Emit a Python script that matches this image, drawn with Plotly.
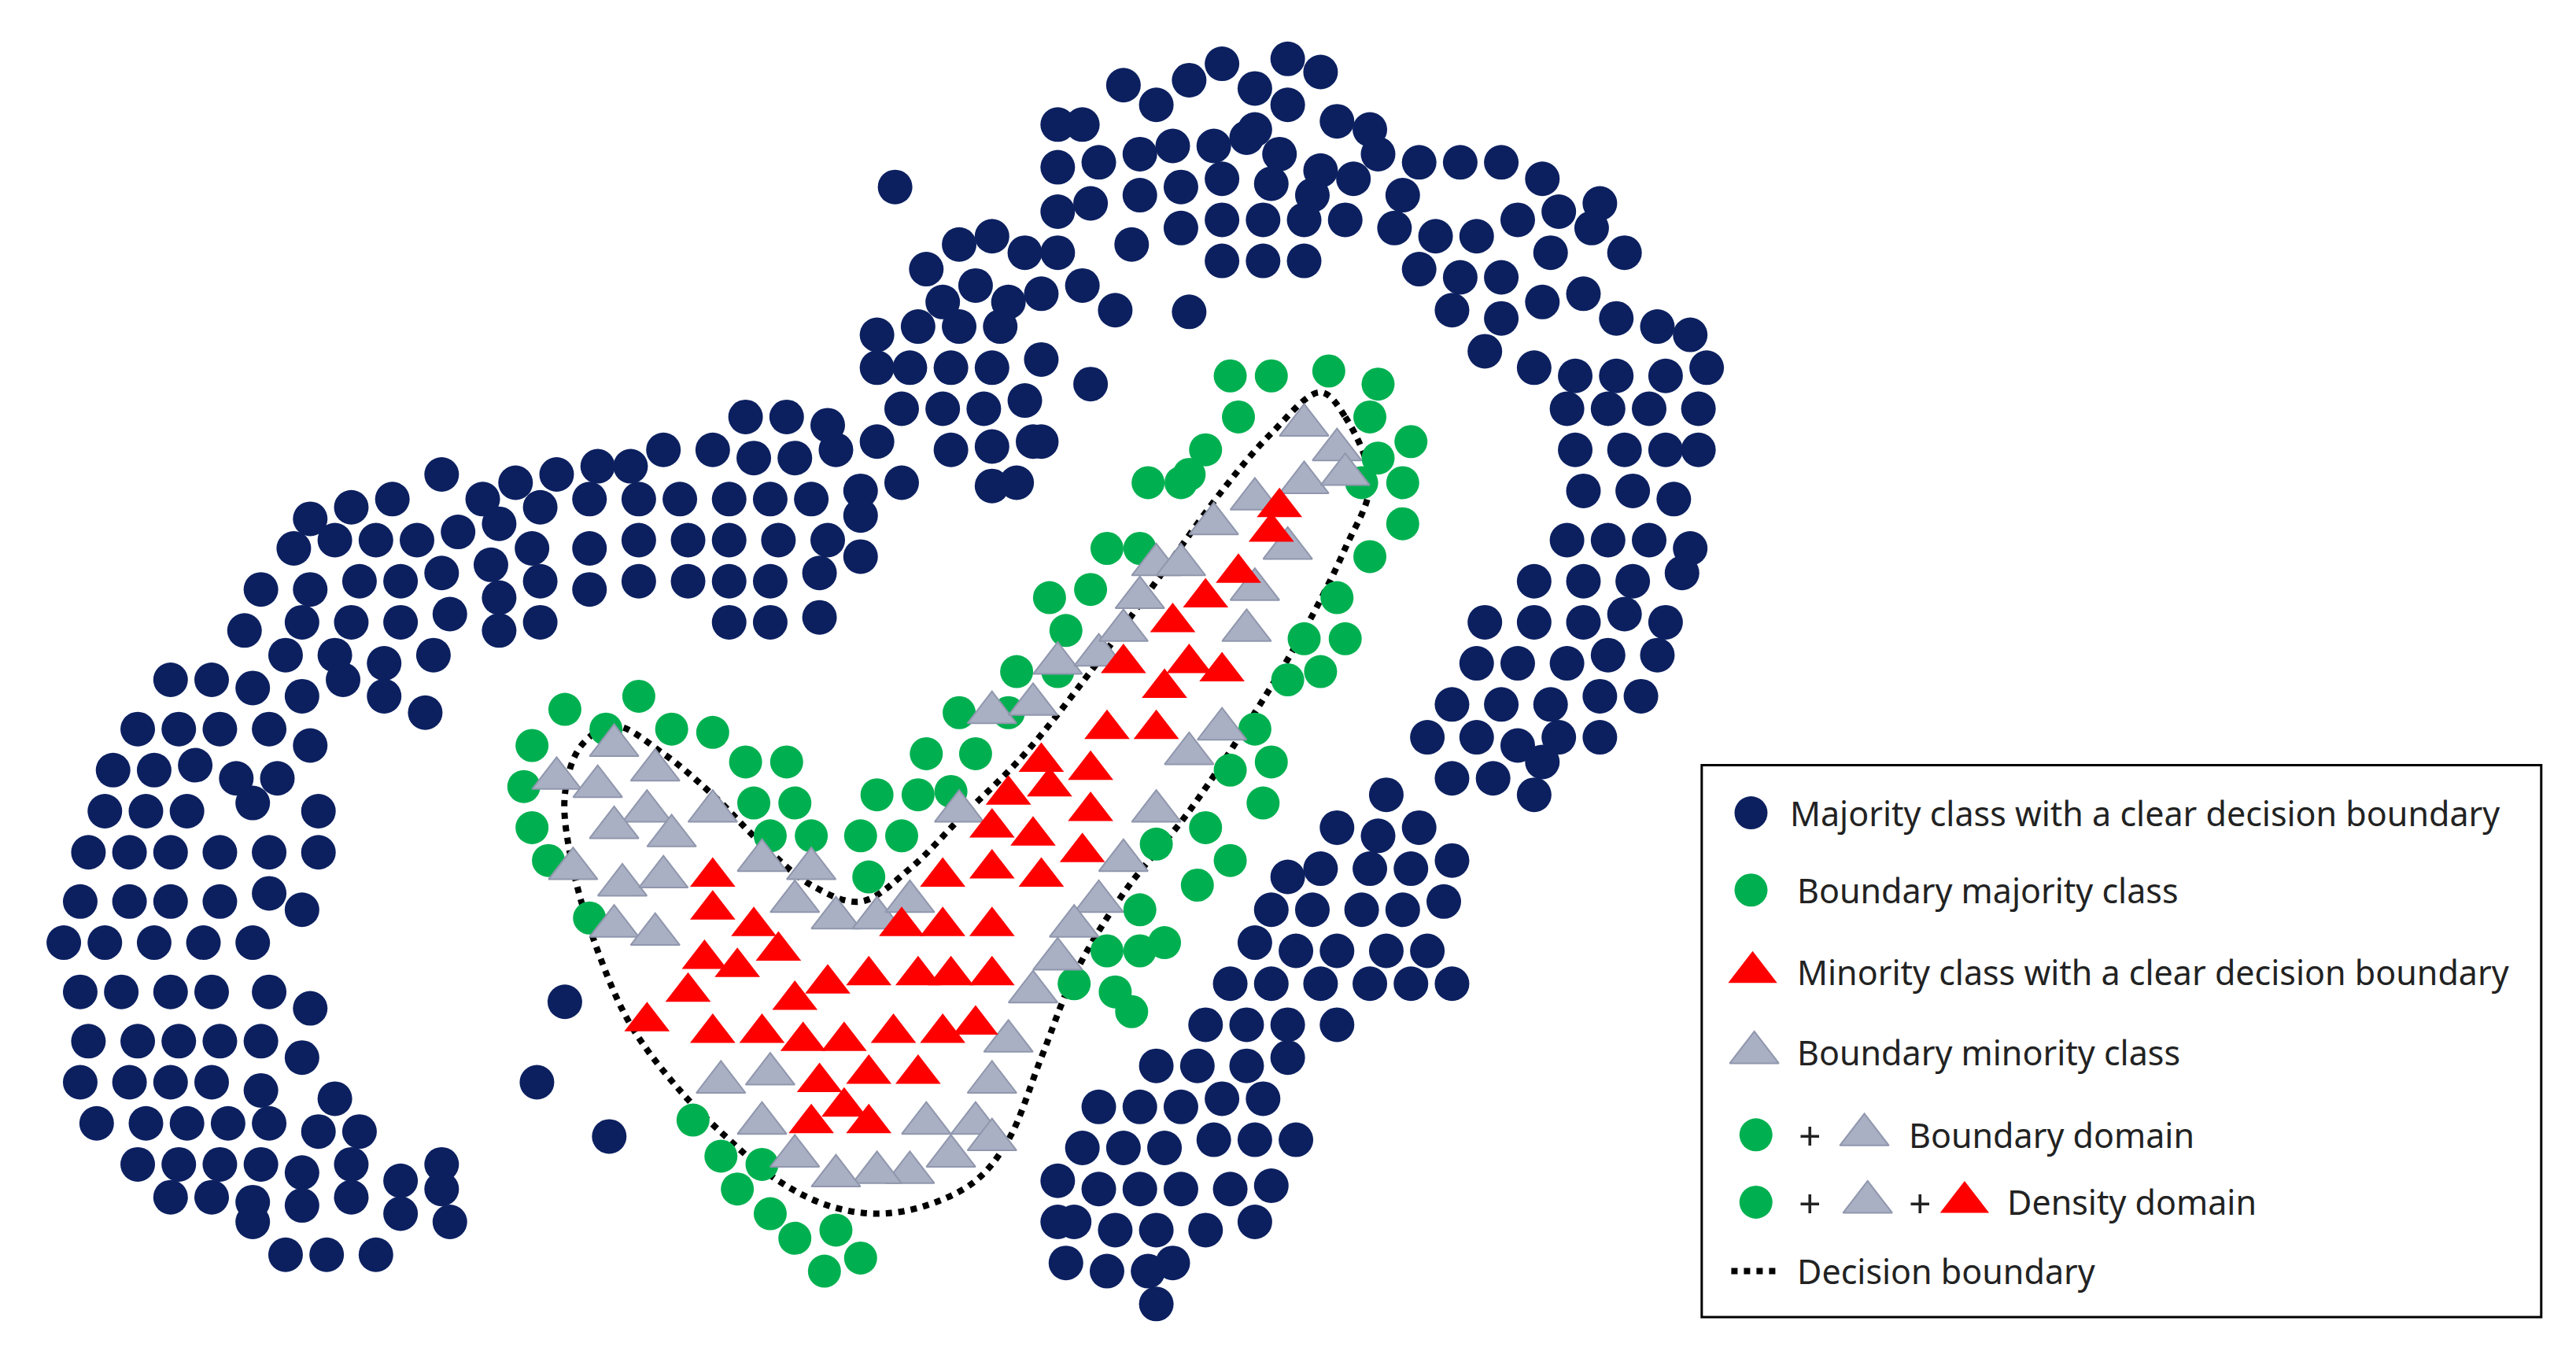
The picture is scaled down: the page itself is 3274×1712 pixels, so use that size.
import plotly.graph_objects as go

def pts(s):
    a = [tuple(map(float, p.split(','))) for p in s.split()]
    return [p[0] for p in a], [p[1] for p in a]

navy = """780,32 800,40 760,50 740,35 720,45 700,60 680,48 655,72 640,72 810,70 830,75 780,60 760,75
640,98 665,95 690,90 710,85 735,85 755,80 775,90 800,100 835,90 860,95 885,95 910,95 935,105 660,120 690,115 715,110 740,105 770,108 795,115 820,105 850,115
640,125 715,135 740,130 765,130 790,130 815,130 845,135 870,140 895,140 920,130 945,125 970,120 685,145 740,155 765,155 790,155 860,160 885,165 910,165 940,150 965,135 985,150
880,185 910,190 935,180 960,175 980,190 1005,195 1025,200 900,210 930,220 955,225 980,225 1010,225 1035,220
950,245 975,245 1000,245 1030,245 955,270 985,270 1010,270 1030,270 960,295 990,295 1015,300 950,325 975,325 1000,325 1025,330 930,350 960,350 990,350 1020,345 900,375 930,375 960,375 985,370 1010,375 895,400 920,400 950,400 975,395 1005,395 880,425 910,425 940,425 970,420 995,420 865,445 895,445 920,450 945,445 970,445 880,470 905,470 930,480 935,460
840,480 860,500 835,505 810,500 800,525 830,525 855,525 880,520 780,530 770,550 795,550 825,550 850,550 875,545 760,570 785,575 810,575 840,575 865,575 745,595 770,595 800,595 830,595 855,595 880,595 730,620 755,620 780,620 810,620 700,645 725,645 755,645 780,640 665,670 690,670 715,670 740,665 765,665 785,690 655,695 680,695 705,695 735,690 760,690 640,715 665,720 690,720 715,720 745,720 770,718 650,740 675,745 700,745 730,745 760,740 645,765 670,770 695,770 710,765 700,790 640,740
541,110 560,160 580,145 600,140 620,150 640,150 655,170 675,185 570,180 590,170 610,180 630,175 530,200 555,195 580,195 605,195 630,215 660,230 530,220 550,220 575,220 600,220 620,240 545,245 570,245 595,245 630,265 575,270 600,268 625,265 600,292 615,290 520,295 545,290 720,186
450,250 475,250 500,255 430,270 455,275 480,275 505,270 530,265 400,270 380,280 360,280 335,285 310,290 290,300 265,285 235,300 210,305 185,312 440,300 465,300 490,300 520,310 410,300 385,300 355,300 325,305 300,315 275,320 250,325 225,325 200,325 175,330 415,325 440,325 470,325 500,325 385,325 355,330 320,330 295,340 265,345 240,350 215,350 185,355 155,355 415,350 440,350 465,350 495,345 520,335 385,350 355,355 325,350 300,360 270,370 240,375 210,375 180,375 145,380 440,375 465,375 495,372 325,375 300,380 260,395 230,400 200,395 170,395 255,430 230,420
100,410 125,410 150,415 180,420 205,410 80,440 105,440 130,440 160,440 185,450 65,465 90,465 115,462 140,470 165,470 60,490 85,490 110,490 150,485 190,490 50,515 75,515 100,515 130,515 160,515 190,515 45,545 75,545 100,545 130,545 160,540 180,550 35,570 60,570 90,570 120,570 150,570 45,600 70,600 100,600 125,600 160,600 185,610 50,630 80,630 105,630 130,630 155,630 180,640 45,655 75,655 100,655 125,655 155,660 200,665 55,680 85,680 110,680 135,680 160,680 190,685 215,685 80,705 105,705 130,705 155,705 180,710 210,705 240,715 265,705 100,725 125,725 150,728 180,730 210,725 240,735 270,740 150,740 170,760 195,760 225,760 265,720 340,606 323,655 367,688"""

green = """385,420 340,428 365,440 405,440 430,442 320,450 450,460 475,460 315,475 455,485 480,485 320,500 465,505 490,505 330,520 355,555
745,225 770,225 805,222 835,230 750,250 730,270 720,285 830,250 855,265 835,275 850,290 825,290 695,290 715,290 850,315 670,330 690,330 830,335 635,360 660,355 810,360 645,380 790,385 815,385 615,405 640,405 780,410 800,405 580,430 610,430 760,440 770,460 560,455 590,455 745,465 765,485 530,480 555,480 575,478 520,505 545,505 730,500 745,520 525,530 700,510 725,535 690,550 705,570 670,575 690,575 650,595 675,600 685,612
418,678 435,700 460,705 445,720 465,735 480,750 505,745 520,762 498,770"""

grey = """370,450 395,465 335,470 360,475 390,490 430,490 370,500 405,505 345,525 375,535 400,530 460,520 490,525 370,560 395,565 480,545 505,555 530,555 550,545 580,490 600,430 625,425 640,400 665,395 680,380 700,340 715,340 690,360 735,315 760,300 790,255 810,270 790,290 815,285 780,330 760,355 755,380 740,440 720,455 700,490 680,520 665,545 650,560 640,580 625,600 610,630 600,655 590,680 575,700 550,710 530,710 505,712 480,700 460,680 435,655 465,650 560,680 600,690"""

red = """430,530 430,550 455,560 470,575 425,580 445,585 390,618 415,600 430,625 460,625 480,605 500,595 525,590 555,590 575,590 600,590 485,630 510,630 540,625 570,625 590,620 495,655 525,650 555,650 510,670 525,680 490,680 545,560 570,560 600,560 570,530 600,525 630,530 600,500 625,505 655,515 610,480 635,475 660,490 630,460 660,465 670,440 700,440 680,400 705,415 720,400 710,375 730,360 750,345 775,305 770,320 740,405"""

boundary = """800,235 815,250 830,290 815,330 790,380 760,430 720,490 680,540 650,590 630,640 610,690 590,715 560,730 530,735 500,730 470,715 440,690 410,660 380,620 360,575 345,525 340,480 350,450 370,438 400,455 430,480 460,510 490,535 520,545 550,525 580,495 620,455 660,405 700,350 740,295 770,260 800,235"""

legend_labels = ["Majority class with a clear decision boundary", "Boundary majority class",
                 "Minority class with a clear decision boundary", "Boundary minority class",
                 "Boundary domain", "Density domain", "Decision boundary"]

NAVY, GREEN, GREY, RED = "#0c2060", "#00b050", "#a9b0c4", "#ff0000"
fig = go.Figure()
bx, by = pts(boundary)
fig.add_trace(go.Scatter(x=bx, y=by, mode="lines", line=dict(color="black", width=8, dash="dot", shape="spline")))
x, y = pts(navy)
fig.add_trace(go.Scatter(x=x, y=y, mode="markers", marker=dict(color=NAVY, size=44)))
x, y = pts(green)
fig.add_trace(go.Scatter(x=x, y=y, mode="markers", marker=dict(color=GREEN, size=42)))
x, y = pts(grey)
fig.add_trace(go.Scatter(x=x, y=y, mode="markers", marker=dict(color=GREY, size=54, symbol="triangle-up", line=dict(color="#9097ad", width=2))))
x, y = pts(red)
fig.add_trace(go.Scatter(x=x, y=y, mode="markers", marker=dict(color=RED, size=50, symbol="triangle-up")))

ly = [491, 538, 588, 637, 687, 728, 770]
def sym(xx, yy, color, symbol, size, line=None):
    fig.add_trace(go.Scatter(x=[xx], y=[yy], mode="markers",
                             marker=dict(color=color, size=size, symbol=symbol, line=line or dict(width=0))))
sym(1062, ly[0], NAVY, "circle", 42)
sym(1062, ly[1], GREEN, "circle", 42)
sym(1063, ly[2], RED, "triangle-up", 54)
sym(1064, ly[3], GREY, "triangle-up", 54, dict(color="#9097ad", width=2))
sym(1065, ly[4], GREEN, "circle", 42)
sym(1131, ly[4], GREY, "triangle-up", 54, dict(color="#9097ad", width=2))
sym(1065, ly[5], GREEN, "circle", 42)
sym(1133, ly[5], GREY, "triangle-up", 54, dict(color="#9097ad", width=2))
sym(1192, ly[5], RED, "triangle-up", 54)
fig.add_trace(go.Scatter(x=[1050, 1078], y=[ly[6], ly[6]], mode="lines", line=dict(color="black", width=8, dash="dot")))
fig.add_shape(type="rect", x0=1032, x1=1543, y0=462, y1=798, line=dict(color="black", width=3))
tx = [1085, 1089, 1089, 1089, 1157, 1217, 1089]
for t, xx, yy in zip(legend_labels, tx, ly):
    fig.add_annotation(x=xx, y=yy, text=t, showarrow=False, xanchor="left", font=dict(size=43, color="#222"))
for xx, yy in [(1098, ly[4]), (1098, ly[5]), (1165, ly[5])]:
    fig.add_annotation(x=xx, y=yy, text="+", showarrow=False, font=dict(size=50, color="#222"))

fig.update_layout(width=3274, height=1712, margin=dict(l=0, r=0, t=0, b=0), showlegend=False,
                  plot_bgcolor="white", paper_bgcolor="white", font=dict(family="Noto Sans"))
fig.update_xaxes(range=[0, 1568], visible=False)
fig.update_yaxes(range=[820, 0], visible=False)
fig.write_html("out.html")
